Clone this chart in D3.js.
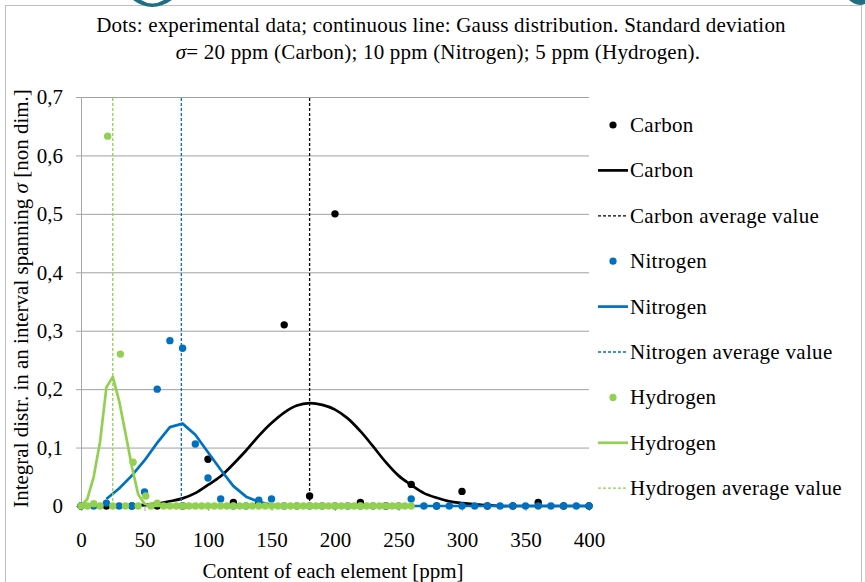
<!DOCTYPE html>
<html>
<head>
<meta charset="utf-8">
<script src="https://cdn.jsdelivr.net/npm/d3@7"></script>
<style>
  html, body { margin: 0; padding: 0; background: #fff; }
  svg { display: block; }
  svg text { font-family: "Liberation Serif", "Times New Roman", serif; fill: #000; }
  .axis path, .axis line { stroke: #a6a6a6; }
  .axis text { font-size: 21px; font-family: "Liberation Serif", "Times New Roman", serif; }
  .grid line { stroke: #a0a0a0; }
  .grid path { display: none; }
</style>
</head>
<body>
<svg id="chart" width="865" height="582"></svg>
<script>
// ---- data ----
const xTicks = [0, 50, 100, 150, 200, 250, 300, 350, 400];
const yTicks = [0, 0.1, 0.2, 0.3, 0.4, 0.5, 0.6, 0.7];

// experimental data (dots) [ppm, value]
const carbonDots = [
  [0, 0], [20, 0], [40, 0], [60, 0], [80, 0], [100, 0.08], [120, 0.006],
  [140, 0.004], [160, 0.31], [180, 0.017], [200, 0.5], [220, 0.006],
  [240, 0], [260, 0.037], [280, 0], [300, 0.025], [320, 0], [340, 0],
  [360, 0.006], [380, 0], [400, 0]
];
const nitrogenDots = [
  [0, 0], [10, 0], [20, 0.005], [30, 0], [40, 0], [50, 0.024], [60, 0.2],
  [70, 0.283], [80, 0.27], [90, 0.106], [100, 0.048], [110, 0.012], [120, 0],
  [130, 0], [140, 0.01], [150, 0.012], [160, 0], [170, 0], [180, 0], [190, 0],
  [200, 0], [210, 0], [220, 0], [230, 0], [240, 0], [250, 0], [260, 0.012],
  [270, 0], [280, 0], [290, 0], [300, 0], [310, 0], [320, 0], [330, 0],
  [340, 0], [350, 0], [360, 0], [370, 0], [380, 0], [390, 0], [400, 0]
];
const hydrogenDots = [
  [0, 0], [5, 0], [10, 0.004], [15, 0], [21, 0.633], [25, 0], [31, 0.26],
  [35, 0], [41, 0.075], [45, 0], [51, 0.017], [55, 0], [60, 0.005], [65, 0],
  [70, 0], [75, 0], [80, 0], [85, 0], [90, 0], [95, 0], [100, 0], [105, 0],
  [110, 0], [115, 0], [120, 0], [125, 0], [130, 0], [135, 0], [140, 0],
  [145, 0], [150, 0], [155, 0], [160, 0], [165, 0], [170, 0], [175, 0],
  [180, 0], [185, 0], [190, 0], [195, 0], [200, 0], [205, 0], [210, 0],
  [215, 0], [220, 0], [225, 0], [230, 0], [235, 0], [240, 0], [245, 0],
  [250, 0], [255, 0], [260, 0]
];

// Gauss distribution (continuous lines) [ppm, value]
const carbonGauss = [
  [0, 0], [10, 0], [20, 0], [30, 0], [40, 0.001], [50, 0.002], [60, 0.004],
  [70, 0.008], [80, 0.013], [90, 0.022], [100, 0.036], [110, 0.051],
  [120, 0.072], [130, 0.095], [140, 0.12], [150, 0.142], [160, 0.16],
  [170, 0.172], [180, 0.176], [190, 0.173], [200, 0.165], [210, 0.15],
  [220, 0.128], [230, 0.102], [240, 0.075], [250, 0.052], [260, 0.036],
  [270, 0.022], [280, 0.014], [290, 0.008], [300, 0.005], [310, 0.003],
  [320, 0.001], [330, 0], [340, 0], [350, 0], [360, 0], [370, 0], [380, 0],
  [390, 0], [400, 0]
];
const nitrogenGauss = [
  [20, 0.012], [30, 0.03], [40, 0.052], [50, 0.078], [60, 0.108], [70, 0.135],
  [80, 0.141], [90, 0.122], [100, 0.092], [110, 0.062], [120, 0.034],
  [130, 0.016], [140, 0.007], [150, 0.002], [160, 0], [170, 0], [180, 0],
  [190, 0], [200, 0], [210, 0], [220, 0], [230, 0], [240, 0], [250, 0],
  [260, 0], [270, 0], [280, 0], [290, 0], [300, 0], [310, 0], [320, 0],
  [330, 0], [340, 0], [350, 0], [360, 0], [370, 0], [380, 0], [390, 0], [400, 0]
];
const hydrogenGauss = [
  [0, 0], [5, 0.012], [10, 0.05], [15, 0.11], [20, 0.203], [25, 0.221],
  [30, 0.18], [35, 0.125], [40, 0.068], [45, 0.02], [50, 0.004], [55, 0],
  [60, 0], [65, 0], [70, 0], [75, 0], [80, 0], [85, 0], [90, 0], [95, 0], [100, 0]
];

// average values [ppm]
const averages = { Carbon: 180, Nitrogen: 79, Hydrogen: 25 };

const series = [
  { name: "Carbon", color: "#000000", dots: carbonDots, gauss: carbonGauss, smooth: true },
  { name: "Nitrogen", color: "#0070c0", dots: nitrogenDots, gauss: nitrogenGauss, smooth: false },
  { name: "Hydrogen", color: "#92d050", dots: hydrogenDots, gauss: hydrogenGauss, smooth: false }
];

// ---- layout ----
const svg = d3.select("#chart");
const plot = { left: 81, right: 589, top: 97, bottom: 506 };
const FONT = '"Liberation Serif", "Times New Roman", serif';

// frame of the chart area
svg.append("rect")
  .attr("x", 5.5).attr("y", 5.5)
  .attr("width", 856).attr("height", 600)
  .attr("fill", "#fff")
  .attr("stroke", "#bfbfbf");

// bits of the slide behind the chart
svg.append("path")
  .attr("d", "M133,0 Q152,14 172,0 L164,0 Q152,7 141,0 Z")
  .attr("fill", "#1f6e84");
svg.append("path")
  .attr("d", "M849,0 Q857,7 865,4 L865,0 Z")
  .attr("fill", "#1f6e84");

const x = d3.scaleLinear().domain([0, 400]).range([plot.left, plot.right]);
const y = d3.scaleLinear().domain([0, 0.7]).range([plot.bottom, plot.top]);

const fmt = d => d3.format(".1f")(d).replace(".", ",").replace(/^0,0$/, "0");

// gridlines
svg.append("g")
  .attr("class", "grid")
  .attr("transform", `translate(${plot.left},0)`)
  .call(d3.axisLeft(y).tickValues(yTicks.slice(1)).tickSize(-(plot.right - plot.left)).tickFormat(""));

// y axis
svg.append("g")
  .attr("class", "axis")
  .attr("transform", `translate(${plot.left},0)`)
  .attr("font-family", FONT)
  .call(d3.axisLeft(y).tickValues(yTicks).tickSize(5).tickSizeOuter(0).tickPadding(13).tickFormat(fmt));

// x axis
svg.append("g")
  .attr("class", "axis")
  .attr("transform", `translate(0,${plot.bottom})`)
  .attr("font-family", FONT)
  .call(d3.axisBottom(x).tickValues(xTicks).tickSize(5).tickSizeOuter(0).tickPadding(21));

// axis titles
svg.append("text")
  .attr("x", x(200) - 2)
  .attr("y", 578)
  .attr("text-anchor", "middle")
  .style("font-size", "21px")
  .text("Content of each element [ppm]");

const yTitle = svg.append("text")
  .attr("transform", `translate(28,${(plot.top + plot.bottom) / 2 - 3}) rotate(-90)`)
  .attr("text-anchor", "middle")
  .style("font-size", "21px");
yTitle.append("tspan").text("Integral distr. in an interval spanning ");
yTitle.append("tspan").style("font-style", "italic").text("σ");
yTitle.append("tspan").text(" [non dim.]");

// chart title
svg.append("text")
  .attr("x", 441).attr("y", 32)
  .attr("text-anchor", "middle")
  .style("font-size", "21px")
  .style("letter-spacing", "0.2px")
  .text("Dots: experimental data; continuous line: Gauss distribution. Standard deviation");
const t2 = svg.append("text")
  .attr("x", 438).attr("y", 59)
  .attr("text-anchor", "middle")
  .style("font-size", "21px")
  .style("letter-spacing", "0.2px");
t2.append("tspan").style("font-style", "italic").text("σ");
t2.append("tspan").text("= 20 ppm (Carbon); 10 ppm (Nitrogen); 5 ppm (Hydrogen).");

// ---- marks ----
const marks = svg.append("g");
series.forEach(s => {
  // dots
  marks.append("g")
    .selectAll("circle")
    .data(s.dots)
    .enter()
    .append("circle")
    .attr("cx", d => x(d[0]))
    .attr("cy", d => y(d[1]))
    .attr("r", 3.7)
    .attr("fill", s.color);

  // gauss line
  const line = d3.line()
    .x(d => x(d[0]))
    .y(d => y(d[1]))
    .curve(s.smooth ? d3.curveCatmullRom : d3.curveLinear);
  marks.append("path")
    .datum(s.gauss)
    .attr("fill", "none")
    .attr("stroke", s.color)
    .attr("stroke-width", 2.7)
    .attr("stroke-linejoin", "round")
    .attr("d", line);

  // average line
  marks.append("line")
    .attr("x1", x(averages[s.name])).attr("x2", x(averages[s.name]))
    .attr("y1", y(0)).attr("y2", y(0.7))
    .attr("stroke", s.color)
    .attr("stroke-width", 1.3)
    .attr("stroke-dasharray", "3,2");
});

// ---- legend ----
const legend = svg.append("g").attr("transform", "translate(598,0)");
let row = 0;
series.forEach(s => {
  ["dot", "line", "avg"].forEach(k => {
    const cy = 125 + row * 45.4;
    const item = legend.append("g").attr("transform", `translate(0,${cy})`);
    if (k === "dot") {
      item.append("circle").attr("cx", 15).attr("cy", 0).attr("r", 3.6).attr("fill", s.color);
    } else {
      item.append("line")
        .attr("x1", 0).attr("x2", 30).attr("y1", 0).attr("y2", 0)
        .attr("stroke", s.color)
        .attr("stroke-width", k === "line" ? 2.7 : 1.3)
        .attr("stroke-dasharray", k === "avg" ? "3,2" : null);
    }
    item.append("text")
      .attr("x", 32).attr("y", 7)
      .style("font-size", "21px")
      .style("letter-spacing", "0.3px")
      .text(k === "avg" ? s.name + " average value" : s.name);
    row++;
  });
});
</script>
</body>
</html>
